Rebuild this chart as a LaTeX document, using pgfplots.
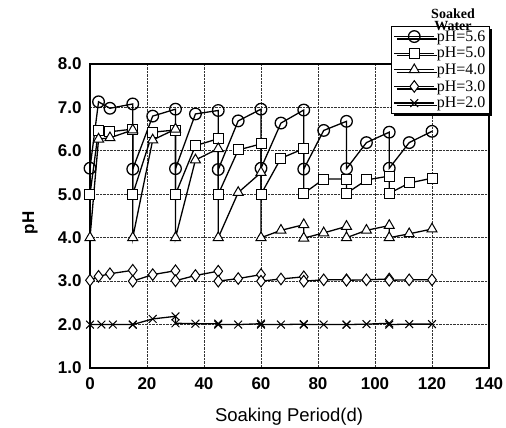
\documentclass[border=0pt]{standalone}
\usepackage{pgfplots}
\pgfplotsset{compat=1.18}
\usepackage{fontspec}
\setmainfont{Liberation Sans}
\newfontfamily\seriffont{Liberation Serif}
\usetikzlibrary{shadows}
\begin{document}
\begin{tikzpicture}
\useasboundingbox (-90pt,-60pt) rectangle (416pt,368pt);
\begin{axis}[
  name=ax,
  at={(0pt,0pt)}, anchor=south west,
  width=399pt, height=304pt, scale only axis,
  xmin=0, xmax=140, ymin=1, ymax=8,
  xtick={0,20,...,140}, ytick={1,2,...,8},
  /pgf/number format/assume math mode=true,
  tick label style={font=\bfseries\fontsize{17}{17}\selectfont},
  yticklabel style={xshift=-5pt, /pgf/number format/.cd, fixed, fixed zerofill, precision=1},
  xticklabel style={yshift=-6pt},
  major tick length=0pt,
  grid=major,
  major grid style={densely dotted, black!80, line width=0.8pt},
  axis line style={line width=1.3pt},
  xlabel={Soaking Period(d)},
  ylabel={pH},
  every axis x label/.style={at={(axis description cs:0.499,-0.16)}, anchor=center, font=\fontsize{18.5}{18.5}\selectfont},
  every axis y label/.style={at={(axis description cs:-0.1504,0.477)}, anchor=center, rotate=90, font=\bfseries\fontsize{17}{17}\selectfont},
  legend style={at={(rel axis cs:1.0025,1.125)}, anchor=north east, draw=black, line width=1pt,
    font=\seriffont\fontsize{16}{16}\selectfont, inner sep=2pt, row sep=0.5pt,
    drop shadow={shadow xshift=2.5pt, shadow yshift=-2.5pt, fill=black, opacity=1}},
  legend cell align=left,
  legend image code/.code={\draw[mark repeat=2,mark phase=2] plot coordinates {(0pt,0pt)(20pt,0pt)(40pt,0pt)};},
  every axis plot/.append style={black, line width=1.3pt, mark options={fill=white, solid, line width=1pt}},
]
\addplot[mark=o, mark size=5.8pt, mark options={fill=white}] coordinates {
(0,5.6)(3,7.13)(7,6.98)(15,7.08)(15,5.58)(22,6.8)(30,6.96)(30,5.59)(37,6.85)(45,6.93)(45,5.57)(52,6.69)(60,6.96)(60,5.6)(67,6.64)(75,6.94)(75,5.58)(82,6.47)(90,6.68)(90,5.59)(97,6.19)(105,6.43)(105,5.6)(112,6.19)(120,6.45)};
\addlegendentry{pH=5.6}
\addplot[mark=square*, mark size=5pt] coordinates {
(0,5.0)(3,6.48)(7,6.44)(15,6.5)(15,5.0)(22,6.43)(30,6.48)(30,5.0)(37,6.12)(45,6.28)(45,5.0)(52,6.02)(60,6.16)(60,5.0)(67,5.83)(75,6.05)(75,5.02)(82,5.35)(90,5.35)(90,5.02)(97,5.33)(105,5.42)(105,5.02)(112,5.26)(120,5.37)};
\addlegendentry{pH=5.0}
\addplot[mark=triangle*, mark size=5.8pt] coordinates {
(0,4.0)(3,6.27)(7,6.3)(15,6.48)(15,4.0)(22,6.25)(30,6.5)(30,4.0)(37,5.79)(45,6.05)(45,4.0)(52,5.04)(60,5.5)(60,4.0)(67,4.17)(75,4.3)(75,3.99)(82,4.11)(90,4.26)(90,4.0)(97,4.17)(105,4.28)(105,4.0)(112,4.09)(120,4.2)};
\addlegendentry{pH=4.0}
\addplot[mark=diamond*, mark size=5.8pt] coordinates {
(0,3.02)(3,3.11)(7,3.17)(15,3.25)(15,3.0)(22,3.15)(30,3.24)(30,3.01)(37,3.13)(45,3.23)(45,3.0)(52,3.06)(60,3.15)(60,3.0)(67,3.05)(75,3.1)(75,3.0)(82,3.03)(90,3.03)(90,3.02)(97,3.03)(105,3.05)(105,3.02)(112,3.03)(120,3.03)};
\addlegendentry{pH=3.0}
\addplot[mark=x, mark size=5.5pt] coordinates {
(0,2.0)(4,2.0)(8,2.0)(15,2.0)(15,2.0)(22,2.13)(30,2.19)(30,2.03)(37,2.02)(45,2.02)(45,2.0)(52,2.0)(60,2.02)(60,2.0)(67,2.0)(75,2.01)(75,2.0)(82,2.0)(90,2.0)(90,2.0)(97,2.01)(105,2.03)(105,2.0)(112,2.01)(120,2.01)};
\addlegendentry{pH=2.0}
\end{axis}
\node[font=\seriffont\bfseries\fontsize{14}{14}\selectfont, align=center, inner sep=0pt] at (363pt,354pt) {Soaked};
\node[font=\seriffont\bfseries\fontsize{14}{14}\selectfont, align=center, inner sep=0pt] at (363pt,342pt) {Water};
\end{tikzpicture}
\end{document}
